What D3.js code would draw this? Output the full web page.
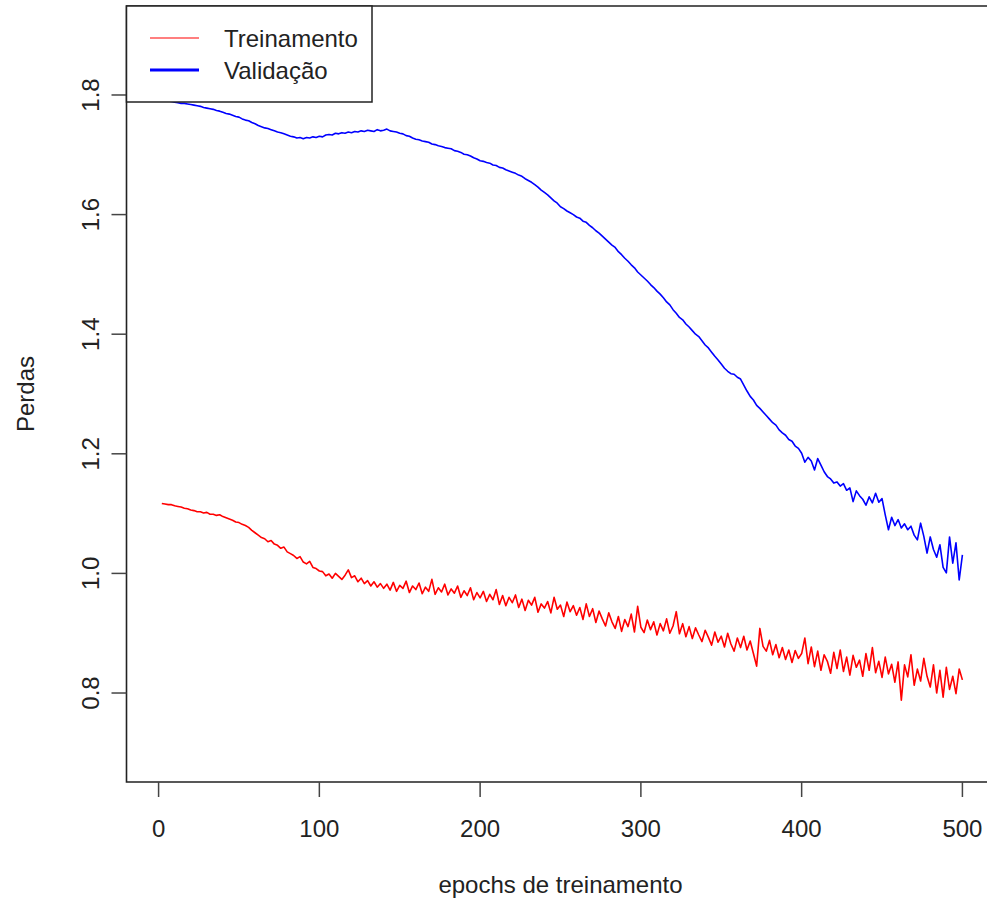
<!DOCTYPE html>
<html>
<head>
<meta charset="utf-8">
<script src="https://cdn.jsdelivr.net/npm/d3@7"></script>
<style>
  body { margin: 0; background: #fff; overflow: hidden; }
  svg { display: block; }
  text { font-family: "Liberation Sans", Arial, sans-serif; fill: #222; }
</style>
</head>
<body>
<div id="chart"></div>
<script>
// Loss per training epoch, read every 2 epochs (2, 4, ..., 500)
var epochs = d3.range(2, 501, 2);

var treinamento = [
  1.117, 1.116, 1.115, 1.115, 1.113, 1.112, 1.111, 1.109, 1.108, 1.106,
  1.105, 1.103, 1.103, 1.101, 1.102, 1.099, 1.099, 1.097, 1.098, 1.095,
  1.093, 1.091, 1.089, 1.086, 1.085, 1.082, 1.080, 1.077, 1.072, 1.068,
  1.064, 1.060, 1.058, 1.053, 1.055, 1.049, 1.047, 1.042, 1.044, 1.036,
  1.033, 1.030, 1.025, 1.028, 1.019, 1.016, 1.020, 1.010, 1.008, 1.004,
  1.003, 0.996, 0.999, 0.992, 1.000, 0.995, 0.990, 0.997, 1.006, 0.993,
  0.996, 0.986, 0.992, 0.983, 0.988, 0.979, 0.986, 0.977, 0.983, 0.975,
  0.982, 0.972, 0.985, 0.970, 0.980, 0.975, 0.987, 0.968, 0.979, 0.973,
  0.984, 0.966, 0.977, 0.970, 0.990, 0.965, 0.976, 0.969, 0.982, 0.964,
  0.974, 0.967, 0.979, 0.960, 0.971, 0.963, 0.976, 0.956, 0.968, 0.959,
  0.970, 0.953, 0.965, 0.956, 0.973, 0.948, 0.963, 0.946, 0.960, 0.951,
  0.964, 0.943, 0.957, 0.938, 0.955, 0.947, 0.960, 0.935, 0.949, 0.942,
  0.953, 0.934, 0.960, 0.940, 0.947, 0.928, 0.952, 0.936, 0.946, 0.930,
  0.943, 0.923, 0.949, 0.928, 0.941, 0.918, 0.937, 0.924, 0.912, 0.934,
  0.919, 0.908, 0.928, 0.903, 0.923, 0.911, 0.932, 0.902, 0.945, 0.910,
  0.901, 0.922, 0.906, 0.919, 0.897, 0.916, 0.904, 0.924, 0.900, 0.912,
  0.936, 0.899, 0.916, 0.894, 0.911, 0.891, 0.909, 0.897, 0.886, 0.905,
  0.893, 0.880, 0.902, 0.885, 0.895, 0.877, 0.900, 0.882, 0.870, 0.892,
  0.876, 0.895, 0.872, 0.887, 0.866, 0.845, 0.908, 0.878, 0.870, 0.888,
  0.864, 0.881, 0.859, 0.876, 0.856, 0.872, 0.851, 0.871, 0.858, 0.866,
  0.892, 0.849, 0.877, 0.844, 0.870, 0.838, 0.864, 0.853, 0.833, 0.868,
  0.841, 0.872, 0.836, 0.860, 0.830, 0.863, 0.843, 0.855, 0.828, 0.866,
  0.838, 0.876, 0.834, 0.853, 0.826, 0.860, 0.832, 0.848, 0.818, 0.852,
  0.788, 0.847, 0.827, 0.864, 0.813, 0.840, 0.820, 0.858, 0.828, 0.810,
  0.847, 0.800, 0.838, 0.793, 0.843, 0.806, 0.828, 0.799, 0.840, 0.822
];

var validacao = [
  1.792, 1.790, 1.790, 1.789, 1.788, 1.787, 1.786, 1.786, 1.785, 1.784,
  1.783, 1.782, 1.781, 1.779, 1.778, 1.777, 1.776, 1.774, 1.773, 1.771,
  1.769, 1.768, 1.766, 1.764, 1.763, 1.760, 1.758, 1.757, 1.754, 1.752,
  1.749, 1.747, 1.745, 1.744, 1.742, 1.740, 1.738, 1.737, 1.735, 1.733,
  1.731, 1.730, 1.728, 1.729, 1.727, 1.729, 1.728, 1.730, 1.729, 1.731,
  1.730, 1.733, 1.734, 1.733, 1.736, 1.735, 1.737, 1.736, 1.738, 1.737,
  1.739, 1.738, 1.740, 1.739, 1.741, 1.740, 1.739, 1.742, 1.740, 1.741,
  1.743, 1.740, 1.739, 1.738, 1.736, 1.735, 1.732, 1.731, 1.728, 1.726,
  1.725, 1.723, 1.722, 1.721, 1.718, 1.717, 1.715, 1.714, 1.712, 1.711,
  1.710, 1.707, 1.706, 1.704, 1.701, 1.700, 1.698, 1.695, 1.693, 1.690,
  1.689, 1.687, 1.686, 1.683, 1.682, 1.679, 1.678, 1.675, 1.673, 1.671,
  1.669, 1.666, 1.664, 1.660, 1.657, 1.654, 1.650, 1.646, 1.641, 1.637,
  1.633, 1.628, 1.623, 1.619, 1.613, 1.610, 1.606, 1.603, 1.600, 1.596,
  1.594, 1.589, 1.587, 1.582, 1.578, 1.573, 1.569, 1.564, 1.559, 1.554,
  1.549, 1.545, 1.538, 1.533, 1.527, 1.522, 1.516, 1.511, 1.504, 1.499,
  1.494, 1.489, 1.483, 1.478, 1.472, 1.467, 1.461, 1.454, 1.449, 1.441,
  1.435, 1.428, 1.424, 1.417, 1.412, 1.406, 1.400, 1.396, 1.389, 1.382,
  1.377, 1.370, 1.363, 1.357, 1.350, 1.343, 1.338, 1.334, 1.333, 1.328,
  1.325, 1.315, 1.305, 1.296, 1.290, 1.281, 1.276, 1.270, 1.264, 1.258,
  1.252, 1.248, 1.240, 1.235, 1.231, 1.224, 1.221, 1.213, 1.209, 1.201,
  1.186, 1.194, 1.188, 1.173, 1.192, 1.181, 1.170, 1.162, 1.158, 1.151,
  1.153, 1.146, 1.150, 1.139, 1.143, 1.120, 1.138, 1.130, 1.124, 1.114,
  1.128, 1.118, 1.134, 1.119, 1.125, 1.098, 1.073, 1.094, 1.080, 1.090,
  1.076, 1.083, 1.073, 1.079, 1.064, 1.056, 1.084, 1.062, 1.034, 1.061,
  1.040, 1.027, 1.048, 1.010, 1.001, 1.061, 1.017, 1.051, 0.989, 1.031
];

var xTicks = [0, 100, 200, 300, 400, 500];
var yTicks = [0.8, 1.0, 1.2, 1.4, 1.6, 1.8];

var seriesNames = ["Treinamento", "Validação"];
var seriesColors = ["#ff0000", "#0000ff"];

// canvas size
var w = 987;
var h = 901;

// plot region (R-style, right edge falls outside the picture)
var plotLeft = 126.5, plotRight = 994.5, plotTop = 6, plotBottom = 782;

var xScale = d3.scaleLinear()
  .domain([-19.96, 519.96])
  .range([plotLeft, plotRight]);

var yScale = d3.scaleLinear()
  .domain([0.6512, 1.9488])
  .range([plotBottom, plotTop]);

var svg = d3.select("#chart")
  .append("svg")
  .attr("width", w)
  .attr("height", h);

svg.append("clipPath").attr("id", "plotclip")
  .append("rect")
  .attr("x", plotLeft).attr("y", plotTop)
  .attr("width", plotRight - plotLeft).attr("height", plotBottom - plotTop);

// the two loss lines
var line = d3.line()
  .x(function (d, i) { return xScale(epochs[i]); })
  .y(function (d) { return yScale(d); });

var plot = svg.append("g").attr("clip-path", "url(#plotclip)");

[treinamento, validacao].forEach(function (values, k) {
  plot.append("path")
    .datum(values)
    .attr("fill", "none")
    .attr("stroke", seriesColors[k])
    .attr("stroke-width", 1.6)
    .attr("stroke-linejoin", "round")
    .attr("d", line);
});

// box around the plot (right side is off the picture)
svg.append("path")
  .attr("d", "M" + plotRight + "," + plotTop + "H" + plotLeft +
             "V" + plotBottom + "H" + plotRight)
  .attr("fill", "none")
  .attr("stroke", "#222")
  .attr("stroke-width", 1.6);

// x axis ticks + labels
var xAxis = svg.append("g").attr("class", "x axis");
xAxis.selectAll("line")
  .data(xTicks).enter().append("line")
  .attr("x1", d => xScale(d)).attr("x2", d => xScale(d))
  .attr("y1", plotBottom).attr("y2", plotBottom + 15)
  .attr("stroke", "#444").attr("stroke-width", 1.5);
xAxis.selectAll("text")
  .data(xTicks).enter().append("text")
  .attr("x", d => xScale(d))
  .attr("y", 837)
  .attr("text-anchor", "middle")
  .attr("font-size", 24)
  .text(d => d);

// y axis ticks + rotated labels
var yAxis = svg.append("g").attr("class", "y axis");
yAxis.selectAll("line")
  .data(yTicks).enter().append("line")
  .attr("x1", plotLeft).attr("x2", plotLeft - 15)
  .attr("y1", d => yScale(d)).attr("y2", d => yScale(d))
  .attr("stroke", "#444").attr("stroke-width", 1.5);
yAxis.selectAll("text")
  .data(yTicks).enter().append("text")
  .attr("transform", d => "translate(99," + yScale(d) + ") rotate(-90)")
  .attr("text-anchor", "middle")
  .attr("font-size", 24)
  .text(d => d3.format(".1f")(d));

// axis titles
svg.append("text")
  .attr("x", (plotLeft + plotRight) / 2)
  .attr("y", 893)
  .attr("text-anchor", "middle")
  .attr("font-size", 24)
  .text("epochs de treinamento");

svg.append("text")
  .attr("transform", "translate(34," + (plotTop + plotBottom) / 2 + ") rotate(-90)")
  .attr("text-anchor", "middle")
  .attr("font-size", 24)
  .text("Perdas");

// legend (top left, on top of the lines)
var legend = svg.append("g").attr("class", "legend");
legend.append("rect")
  .attr("x", plotLeft).attr("y", plotTop)
  .attr("width", 372 - plotLeft).attr("height", 102 - plotTop)
  .attr("fill", "#fff")
  .attr("stroke", "#222")
  .attr("stroke-width", 1.5);

var legendRows = [38, 70];
seriesNames.forEach(function (name, k) {
  legend.append("line")
    .attr("x1", 150).attr("x2", 199)
    .attr("y1", legendRows[k]).attr("y2", legendRows[k])
    .attr("stroke", seriesColors[k])
    .attr("stroke-width", k === 0 ? 1.2 : 3);
  legend.append("text")
    .attr("x", 224)
    .attr("y", legendRows[k] + 9)
    .attr("font-size", 24)
    .text(name);
});
</script>
</body>
</html>
